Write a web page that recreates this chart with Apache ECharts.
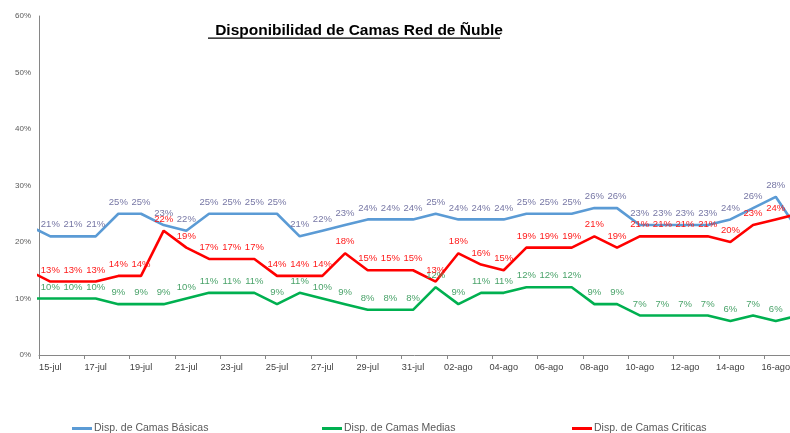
<!DOCTYPE html>
<html>
<head>
<meta charset="utf-8">
<script src="https://cdn.jsdelivr.net/npm/echarts@6/dist/echarts.min.js"></script>
<style>
html,body{margin:0;padding:0;background:#fff;}
#chart{width:790px;height:433px;}
</style>
</head>
<body>
<div id="chart"></div>
<script>
// Days (first and last are only partly visible at the plot edges)
var days = ['14-jul','15-jul','16-jul','17-jul','18-jul','19-jul','20-jul','21-jul','22-jul','23-jul','24-jul','25-jul','26-jul','27-jul','28-jul','29-jul','30-jul','31-jul','01-ago','02-ago','03-ago','04-ago','05-ago','06-ago','07-ago','08-ago','09-ago','10-ago','11-ago','12-ago','13-ago','14-ago','15-ago','16-ago','17-ago'];
var basicas  = [23, 21,21,21,25,25,23,22,25,25,25,25,21,22,23,24,24,24,25,24,24,24,25,25,25,26,26,23,23,23,23,24,26,28, 22];
var medias   = [10, 10,10,10,9,9,9,10,11,11,11,9,11,10,9,8,8,8,12,9,11,11,12,12,12,9,9,7,7,7,7,6,7,6, 7];
var criticas = [15, 13,13,13,14,14,22,19,17,17,17,14,14,14,18,15,15,15,13,18,16,15,19,19,19,21,19,21,21,21,21,20,23,24, 25];
var tickDays = [0,2,4,6,8,10,12,14,16,18,20,22,24,26,28,30,32];
var yTicks = [0,10,20,30,40,50,60];
var seriesNames = ['Disp. de Camas Básicas','Disp. de Camas Medias','Disp. de Camas Criticas'];

var FONT = 'Liberation Sans';
var labelDays = tickDays.map(function(d){return d + 0.5;});
function toData(vals){
  return vals.map(function(v,i){
    var item = {value:[i-0.5, v]};
    if(i===0 || i===vals.length-1){ item.label = {show:false}; }
    return item;
  });
}
function mkSeries(name, vals, lineColor, labelColor){
  return {
    name:name, type:'line', data:toData(vals),
    symbol:'circle', symbolSize:1, showSymbol:true,
    itemStyle:{color:lineColor},
    lineStyle:{color:lineColor, width:2.6},
    label:{show:true, position:'top', distance:6, fontSize:9.5, fontFamily:FONT, color:labelColor,
      formatter:function(p){return p.value[1]+'%';}},
    emphasis:{disabled:true},
    clip:true
  };
}
function mkLegend(name, left){
  return {data:[name], left:left, top:418, icon:'rect', itemWidth:20, itemHeight:3, itemGap:0,
    textStyle:{fontSize:10.5, fontFamily:FONT, color:'#595959', padding:[0,0,0,-3]}, selectedMode:false};
}
var chart = echarts.init(document.getElementById('chart'), null, {renderer:'canvas'});
chart.setOption({
  animation:false,
  backgroundColor:'#ffffff',
  title:{text:'Disponibilidad de Camas Red de Ñuble', left:354, top:18, textAlign:'center',
    textStyle:{fontFamily:FONT, fontSize:15.5, fontWeight:'bold', color:'#000'}},
  graphic:[{type:'rect', shape:{x:208, y:37.5, width:292, height:1.3}, style:{fill:'#000'}}],
  legend:[mkLegend(seriesNames[0],67), mkLegend(seriesNames[1],317), mkLegend(seriesNames[2],567)],
  grid:{left:39, right:0, top:16, bottom:78, containLabel:false, outerBoundsMode:'none'},
  xAxis:{type:'value', min:0, max:33.13,
    axisLine:{show:true, lineStyle:{color:'#868686', width:1}},
    axisTick:{show:true, customValues:tickDays, length:4, lineStyle:{color:'#868686'}},
    axisLabel:{show:true, customValues:labelDays, align:'center', margin:8, fontSize:9.2, fontFamily:FONT, color:'#404040',
      formatter:function(v){return days[Math.round(v - 0.5)+1] || '';}},
    splitLine:{show:false}},
  yAxis:{type:'value', min:0, max:60, interval:10,
    axisLine:{show:true, lineStyle:{color:'#868686', width:1}},
    axisTick:{show:false},
    axisLabel:{margin:8, fontSize:8, fontFamily:FONT, color:'#595959', formatter:'{value}%'},
    splitLine:{show:false}},
  series:[
    mkSeries(seriesNames[0], basicas, '#5b9bd5', '#7777a5'),
    mkSeries(seriesNames[1], medias, '#00b050', '#4aa36a'),
    mkSeries(seriesNames[2], criticas, '#ff0000', '#ff1a1a')
  ]
});
</script>
</body>
</html>
